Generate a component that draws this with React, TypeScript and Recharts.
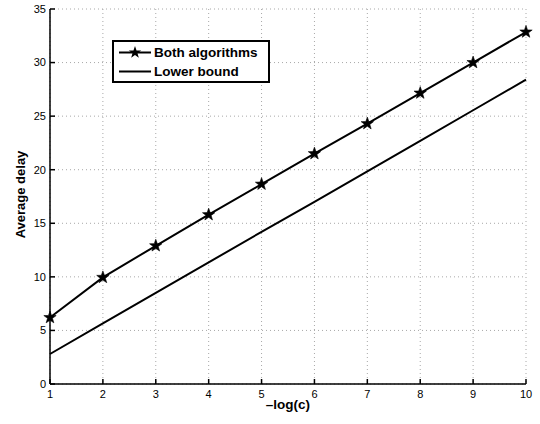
import { LineChart, Line, XAxis, YAxis, CartesianGrid, Legend } from "recharts";

const xValues = [1, 2, 3, 4, 5, 6, 7, 8, 9, 10];
const bothAlgorithms = [6.2, 9.95, 12.9, 15.8, 18.65, 21.5, 24.3, 27.15, 30.0, 32.85];
const lowerBound = [2.8, 5.65, 8.5, 11.35, 14.2, 17.0, 19.85, 22.7, 25.55, 28.4];
const xTicks = [1, 2, 3, 4, 5, 6, 7, 8, 9, 10];
const yTicks = [0, 5, 10, 15, 20, 25, 30, 35];
const seriesNames = ["Both algorithms", "Lower bound"];

const data = xValues.map((x, i) => ({ x, both: bothAlgorithms[i], lower: lowerBound[i] }));

const font = "'Liberation Sans', Arial, Helvetica, sans-serif";

function starPoints(cx: number, cy: number, outer = 6.5, inner = 2.6) {
  const pts: string[] = [];
  for (let k = 0; k < 10; k++) {
    const r = k % 2 === 0 ? outer : inner;
    const a = -Math.PI / 2 + (k * Math.PI) / 5;
    pts.push(`${cx + r * Math.cos(a)},${cy + r * Math.sin(a)}`);
  }
  return pts.join(" ");
}

function StarDot(props: any) {
  const { cx, cy, index } = props;
  if (cx == null || cy == null) return <g key={index} />;
  return <polygon key={index} points={starPoints(cx, cy)} fill="#000" stroke="#000" strokeWidth={0.6} />;
}

function LegendBox() {
  const row = (name: string, star: boolean) => (
    <div key={name} style={{ display: "flex", alignItems: "center", height: 19 }}>
      <svg width={32} height={19} style={{ display: "block" }}>
        <line x1={0} y1={9.5} x2={32} y2={9.5} stroke="#000" strokeWidth={2} />
        {star && <polygon points={starPoints(16, 9.5)} fill="#000" />}
      </svg>
      <span style={{ marginLeft: 3, fontWeight: "bold", fontSize: 13.5, fontFamily: font, color: "#000", whiteSpace: "nowrap" }}>
        {name}
      </span>
    </div>
  );
  return (
    <div
      style={{
        border: "2px solid #000",
        background: "#fff",
        width: 149,
        height: 38,
        padding: "1px 0 0 5px",
        boxSizing: "content-box",
      }}
    >
      {row(seriesNames[0], true)}
      {row(seriesNames[1], false)}
    </div>
  );
}

const tickStyle = { fill: "#000", fontSize: 11, fontFamily: font };

export default function App() {
  return (
    <div style={{ position: "absolute", left: 0, top: 0, width: 540, height: 424, background: "#fff" }}>
      <LineChart width={540} height={424} data={data} margin={{ top: 9, right: 14, bottom: 0, left: 0 }}>
        <CartesianGrid stroke="#a8a8a8" strokeDasharray="1 3" strokeWidth={1} />
        <XAxis
          dataKey="x"
          type="number"
          domain={[1, 10]}
          ticks={xTicks}
          height={40}
          tickSize={-5}
          tickMargin={11}
          tick={tickStyle}
          stroke="#000"
          strokeWidth={1.5}
          label={{
            content: ({ viewBox }: any) => (
              <text
                x={viewBox.x + viewBox.width / 2}
                y={viewBox.y + 20}
                textAnchor="middle"
                dominantBaseline="central"
                fontFamily={font}
                fontWeight="bold"
                fontSize={13.5}
                fill="#000"
              >
                –log(c)
              </text>
            ),
          }}
        />
        <XAxis
          xAxisId="top"
          orientation="top"
          dataKey="x"
          type="number"
          domain={[1, 10]}
          ticks={xTicks}
          height={0}
          tickSize={-5}
          tickFormatter={() => ""}
          stroke="#000"
          strokeWidth={1.5}
        />
        <YAxis
          type="number"
          domain={[0, 35]}
          ticks={yTicks}
          width={50}
          tickSize={-5}
          tickMargin={9}
          tick={tickStyle}
          stroke="#000"
          strokeWidth={1.5}
          label={{
            content: ({ viewBox }: any) => {
              const x = viewBox.x + 20;
              const y = viewBox.y + viewBox.height / 2 - 2;
              return (
                <text
                  x={x}
                  y={y}
                  transform={`rotate(-90, ${x}, ${y})`}
                  textAnchor="middle"
                  dominantBaseline="central"
                  fontFamily={font}
                  fontWeight="bold"
                  fontSize={13}
                  fill="#000"
                >
                  Average delay
                </text>
              );
            },
          }}
        />
        <YAxis
          yAxisId="right"
          orientation="right"
          type="number"
          domain={[0, 35]}
          ticks={yTicks}
          width={0}
          tickSize={-5}
          tickFormatter={() => ""}
          stroke="#000"
          strokeWidth={1.5}
        />
        <Legend
          layout="horizontal"
          verticalAlign="middle"
          align="center"
          wrapperStyle={{ left: 112, top: 40, width: 158 }}
          content={() => <LegendBox />}
        />
        <Line
          dataKey="both"
          name={seriesNames[0]}
          type="linear"
          stroke="#000"
          strokeWidth={2}
          dot={(p: any) => <StarDot {...p} />}
          activeDot={false}
          isAnimationActive={false}
        />
        <Line
          dataKey="lower"
          name={seriesNames[1]}
          type="linear"
          stroke="#000"
          strokeWidth={2}
          dot={false}
          activeDot={false}
          isAnimationActive={false}
        />
      </LineChart>
    </div>
  );
}
